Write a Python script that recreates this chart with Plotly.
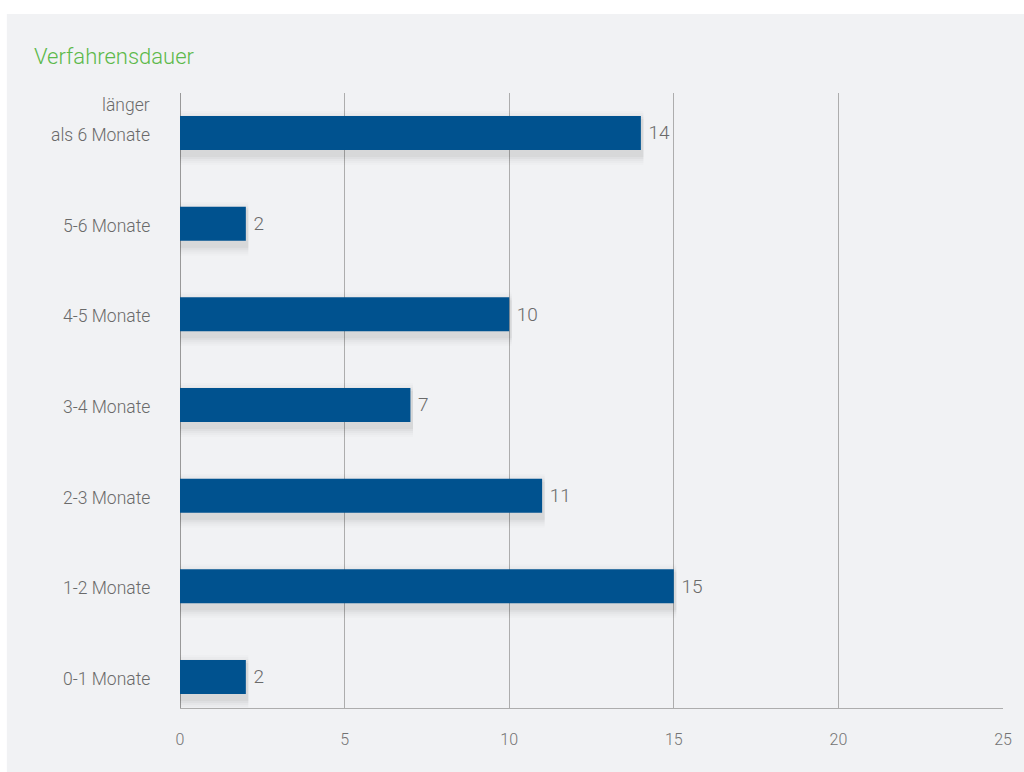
import plotly.graph_objects as go

# ---- data ----
categories = ["0-1 Monate", "1-2 Monate", "2-3 Monate", "3-4 Monate",
              "4-5 Monate", "5-6 Monate", "länger als 6 Monate"]
category_labels = ["0-1 Monate", "1-2 Monate", "2-3 Monate", "3-4 Monate",
                   "4-5 Monate", "5-6 Monate", "länger<br>als 6 Monate"]
values = [2, 15, 11, 7, 10, 2, 14]
x_ticks = [0, 5, 10, 15, 20, 25]
title_text = "Verfahrensdauer"

# ---- style ----
BAR = "#00528F"
PANEL = "#F1F2F4"
GRID = "#ADADAD"
LABEL = "#6A6A6A"
FONT = "Roboto"

W = 0.375          # bar thickness (category units)
PX_PER_CAT = 90.67  # approximate pixels per category

fig = go.Figure()

# soft drop shadow (layered translucent bars)
for s_px, a in [(10, 0.012), (8, 0.016), (6, 0.02), (4, 0.026), (2, 0.032)]:
    s = s_px / PX_PER_CAT
    d = 5 / PX_PER_CAT
    fig.add_trace(go.Bar(
        y=categories, x=[v + 0.08 for v in values], orientation="h",
        width=W + 2 * s, offset=-W / 2 - s - d,
        marker=dict(color=f"rgba(0,0,0,{a})", line=dict(width=0)),
        hoverinfo="skip", showlegend=False,
    ))

fig.add_trace(go.Bar(
    y=categories, x=values, orientation="h",
    width=W, offset=-W / 2,
    marker=dict(color=BAR, line=dict(width=0)),
    text=[f" {v}" for v in values], textposition="outside",
    outsidetextfont=dict(family=FONT, size=19, color=LABEL, weight=300),
    cliponaxis=False, showlegend=False,
))

# category labels (multi-line aware, last line aligned with bar centre)
annotations = []
for cat, lab in zip(categories, category_labels):
    lines = lab.split("<br>")
    n = len(lines)
    for i, line in enumerate(lines):
        annotations.append(dict(
            x=0, xref="paper", y=cat, yref="y",
            text=line, showarrow=False, xanchor="right", yanchor="middle",
            xshift=-28, yshift=(n - 1 - i) * 30 - 2,
            font=dict(family=FONT, size=17.5, color=LABEL, weight=300),
        ))

# white outer margin strips (top and left) over the grey panel background
white_strips = [
    dict(type="rect", xref="paper", yref="paper",
         x0=(-50 - 180) / 827, x1=(6 - 180) / 827,
         y0=(708 - 900) / 615, y1=(708 + 50) / 615,
         fillcolor="white", line=dict(width=0), layer="below"),
    dict(type="rect", xref="paper", yref="paper",
         x0=(-50 - 180) / 827, x1=(1100 - 180) / 827,
         y0=(708 - 14) / 615, y1=(708 + 50) / 615,
         fillcolor="white", line=dict(width=0), layer="below"),
]

fig.update_layout(
    width=1024, height=772, autosize=False,
    margin=dict(l=180, r=17, t=93, b=64),
    paper_bgcolor=PANEL,
    plot_bgcolor="rgba(0,0,0,0)",
    barmode="overlay",
    title=dict(text=title_text, x=34 / 1024, xref="container", xanchor="left",
               y=1 - 56 / 772, yref="container", yanchor="middle",
               font=dict(family=FONT, size=22, color="#5CB94A", weight=300)),
    font=dict(family=FONT, color=LABEL),
    annotations=annotations,
    shapes=white_strips,
    xaxis=dict(range=[0, 25.0], tickvals=x_ticks, showgrid=True,
               gridcolor=GRID, gridwidth=1, zeroline=True, zerolinecolor="#999999",
               zerolinewidth=1, showline=True, linecolor=GRID, linewidth=1,
               ticks="outside", ticklen=17, tickcolor="rgba(0,0,0,0)",
               tickfont=dict(family=FONT, size=16, color="#737373", weight=300)),
    yaxis=dict(type="category", categoryarray=categories, range=[-0.342, 6.441],
               showticklabels=False, showgrid=False, zeroline=False,
               showline=False, ticks=""),
)

fig.write_html(
    "out.html",
    config={"displayModeBar": False, "responsive": False},
    default_width="1024px", default_height="772px",
    post_script=("document.body.style.margin='0';"
                 "document.body.style.overflow='hidden';"
                 "document.documentElement.style.overflow='hidden';"),
)
